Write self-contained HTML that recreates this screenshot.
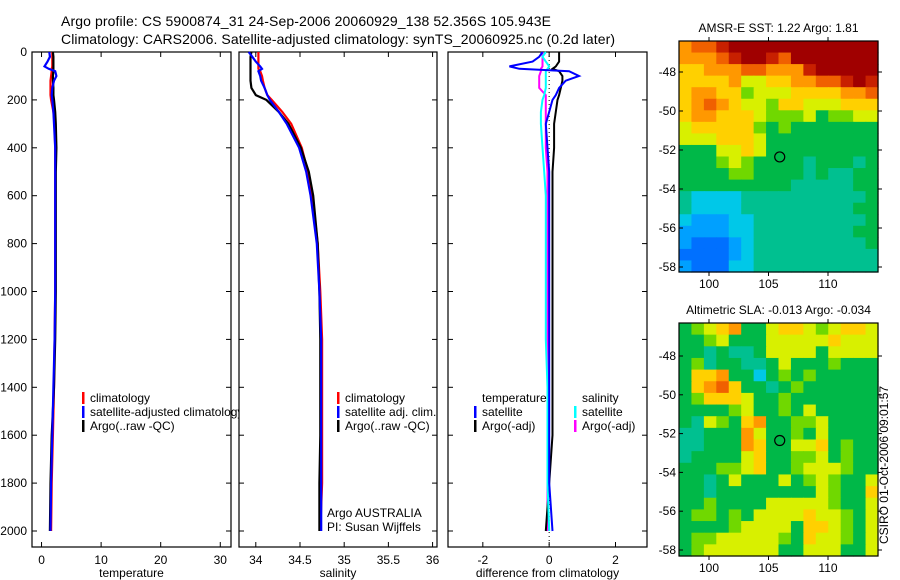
<!DOCTYPE html>
<html><head><meta charset="utf-8">
<style>
body{margin:0;background:#fff;}
svg{display:block;font-family:"Liberation Sans",sans-serif;}
text{font-size:12px;fill:#000;}
</style></head>
<body>
<svg id="fig" width="900" height="580" viewBox="0 0 900 580">
<text x="61" y="26" style="font-size:14px" textLength="490">Argo profile: CS 5900874_31 24-Sep-2006 20060929_138 52.356S 105.943E</text>
<text x="61" y="44" style="font-size:14px" textLength="554">Climatology: CARS2006. Satellite-adjusted climatology: synTS_20060925.nc (0.2d later)</text>
<g id="g"></g>
</svg>
<script>
// ---- profile data (depth in m) ----
const depths = [0,20,40,60,70,80,100,120,150,180,200,250,300,400,500,600,800,1000,1200,1400,1600,1800,2000];
const tempClim = [1.8,1.8,1.8,1.8,1.7,1.7,1.6,1.5,1.5,1.5,1.6,2.0,2.2,2.3,2.3,2.3,2.3,2.3,2.2,2.1,1.9,1.7,1.6];
const tempSat  = [1.3,1.4,1.0,0.5,1.2,2.3,2.5,2.1,1.8,1.7,1.8,2.0,2.1,2.3,2.3,2.3,2.3,2.3,2.2,2.0,1.8,1.6,1.5];
const tempArgo = [1.9,2.0,2.0,2.0,2.0,2.0,1.9,1.9,2.0,2.0,2.1,2.3,2.4,2.5,2.4,2.4,2.4,2.4,2.3,2.1,1.7,1.5,1.4];
const salClim  = [34.03,34.03,34.03,34.03,34.03,34.05,34.07,34.08,34.10,34.13,34.18,34.30,34.40,34.52,34.59,34.64,34.70,34.73,34.75,34.75,34.75,34.75,34.73];
const salSat   = [33.92,33.96,34.00,34.05,34.07,34.03,34.05,34.06,34.10,34.13,34.16,34.26,34.35,34.49,34.57,34.62,34.69,34.72,34.74,34.74,34.74,34.74,34.74];
const salArgo  = [33.95,33.94,33.94,33.94,33.94,33.94,33.94,33.94,33.95,34.00,34.12,34.26,34.37,34.51,34.60,34.65,34.70,34.72,34.73,34.73,34.73,34.72,34.72];
const dTempSat  = [-0.2,-0.3,-0.5,-1.2,-0.9,0.6,0.9,0.5,0.3,0.2,0.1,0.0,-0.1,-0.05,0.0,0.0,0.0,0.0,0.0,0.0,0.0,0.0,0.1];
const dTempArgo = [0.3,0.3,0.3,0.2,0.1,0.3,0.4,0.4,0.35,0.3,0.25,0.2,0.15,0.15,0.1,0.1,0.1,0.1,0.1,0.1,0.1,0.0,-0.1];
const dSalSat   = [-0.1,-0.2,-0.1,0.0,-0.05,-0.1,-0.1,-0.1,-0.1,-0.15,-0.2,-0.25,-0.25,-0.2,-0.15,-0.1,-0.1,-0.1,-0.1,-0.05,-0.05,-0.05,0.0];
const dSalArgo  = [-0.2,-0.2,-0.2,-0.2,-0.25,-0.25,-0.3,-0.3,-0.3,-0.1,-0.1,-0.1,-0.1,-0.1,-0.05,-0.05,-0.05,-0.05,-0.05,-0.05,-0.05,-0.05,-0.05];
const depthTicks = [0,200,400,600,800,1000,1200,1400,1600,1800,2000];
const tempTicks = [0,10,20,30];
const salTicks = [34,34.5,35,35.5,36];
const salTickLabels = ["34","34.5","35","35.5","36"];
const diffTicks = [-2,0,2];
// ---- map data (level codes, rows north->south) ----
const sstRows = ["899abbbbbbbbbbbb","8889abba9bbbbbbb","7788899888abbbbb","7777866778899aba","7887756667777889","7898766577666777","7887776555645566","6777775454444444","6667776444444444","4446676444444444","4445654444344434","4444554444343344","4444444443333344","3222233333333334","3222233333333344","2111223333333334","1111223333333344","1000123333333334","0000123333333333","1000223333333333"];
const slaRows = ["4567844677656776","4456444666667666","4434334666646666","4534433464445444","4778442454544444","4789744345444444","4577764454444444","4444564454644444","4365478445564444","3344486445464444","3344487446674544","3444467445564544","4445567445666544","4434644464565446","4434444444465447","4454444666665446","4554546666766546","4444566664776546","4556666654766546","4566666644666446"];
const lonTicks = [100,105,110];
const latTicks = [-48,-50,-52,-54,-56,-58];
const floatLon = 105.943, floatLat = -52.356;

const NS="http://www.w3.org/2000/svg";
const G=document.getElementById('g');
function el(t,a,p){const e=document.createElementNS(NS,t);for(const k in a)e.setAttribute(k,a[k]);(p||G).appendChild(e);return e;}
function txt(x,y,s,anchor,p,size){const e=el('text',{x:x,y:y,'text-anchor':anchor||'start'},p);if(size)e.style.fontSize=size+'px';e.textContent=s;return e;}

const Y0=52,Y1=547;
const yD=d=>52+d*0.2395;
function panel(name,x0,x1,vmin,vmax,ticks,labels,xlabel,yl){
  const g=el('g',{});
  
  
  const sx=v=>x0+(v-vmin)/(vmax-vmin)*(x1-x0);
  const r=el('rect',{x:x0,y:Y0,width:x1-x0,height:Y1-Y0,fill:'#fff',stroke:'#000','stroke-width':1.2},g);
  
  
  ticks.forEach((t,i)=>{
    const x=sx(t);
    el('line',{x1:x,x2:x,y1:Y1,y2:Y1-5,stroke:'#000'},g);
    el('line',{x1:x,x2:x,y1:Y0,y2:Y0+5,stroke:'#000'},g);
    const lt=txt(x,Y1+17,labels[i],'middle',g);
    
    
  });
  depthTicks.forEach(d=>{
    const y=yD(d);
    el('line',{x1:x0,x2:x0+5,y1:y,y2:y,stroke:'#000'},g);
    el('line',{x1:x1,x2:x1-5,y1:y,y2:y,stroke:'#000'},g);
    if(yl){const t=txt(x0-5,y+4,String(d),'end',g);
      
      }
  });
  const xt=txt((x0+x1)/2,Y1+30,xlabel,'middle',g);
  
  
  return {g,sx};
}
function line(p,vals,color,name,w){
  let d='';
  vals.forEach((v,i)=>{const x=p.sx(v),y=yD(depths[i]);d+=(i?'L':'M')+x.toFixed(1)+' '+y.toFixed(1);});
  const e=el('path',{d:d,fill:'none',stroke:color,'stroke-width':w||2.2},p.g);
  
  
}
function legend(p,x,y,color,label,name){
  const g=el('g',{},p.g);
  
  
  if(color)el('rect',{x:x,y:y-10,width:2.5,height:12,fill:color},g);
  txt(x+8,y,label,'start',g);
}
const p1=panel('temperature-panel',32,231,-1.6,31.8,tempTicks,tempTicks.map(String),'temperature',true);
line(p1,tempClim,'#f00','temp-climatology-line');
line(p1,tempArgo,'#000','temp-argo-line');
line(p1,tempSat,'#00f','temp-satellite-line');
legend(p1,82,402,'#f00','climatology','legend-climatology');
legend(p1,82,416,'#00f','satellite-adjusted climatology','legend-satellite');
legend(p1,82,430,'#000','Argo(..raw -QC)','legend-argo');

const p2=panel('salinity-panel',239,437,33.81,36.05,salTicks,salTickLabels,'salinity',false);
line(p2,salClim,'#f00','sal-climatology-line');
line(p2,salArgo,'#000','sal-argo-line');
line(p2,salSat,'#00f','sal-satellite-line');
legend(p2,337,402,'#f00','climatology','legend-climatology');
legend(p2,337,416,'#00f','satellite adj. clim.','legend-satellite');
legend(p2,337,430,'#000','Argo(..raw -QC)','legend-argo');
const a1=txt(327,517,'Argo AUSTRALIA','start',p2.g);
const a2=txt(327,531,'PI: Susan Wijffels','start',p2.g);

const p3=panel('difference-panel',448,647,-3.05,2.95,diffTicks,diffTicks.map(String),'difference from climatology',false);
el('line',{x1:p3.sx(0),x2:p3.sx(0),y1:Y0,y2:Y1,stroke:'#000','stroke-dasharray':'1 3'},p3.g);
line(p3,dSalArgo,'#f0f','diff-sal-argo-line',2);
line(p3,dTempArgo,'#000','diff-temp-argo-line',2);
line(p3,dSalSat,'#0ff','diff-sal-satellite-line',2);
line(p3,dTempSat,'#00f','diff-temp-satellite-line',2);
legend(p3,474,402,null,'temperature','legend-temperature-header');
legend(p3,574,402,null,'salinity','legend-salinity-header');
legend(p3,474,416,'#00f','satellite','legend-temp-satellite');
legend(p3,474,430,'#000','Argo(-adj)','legend-temp-argo');
legend(p3,574,416,'#0ff','satellite','legend-sal-satellite');
legend(p3,574,430,'#f0f','Argo(-adj)','legend-sal-argo');

// ---- maps ----
const cmap={'0':'#0070ff','1':'#00a0ff','2':'#00c8e8','3':'#00c090','4':'#00b848','5':'#70d800','6':'#d8f000','7':'#ffd000','8':'#ff9800','9':'#f06000','a':'#c82000','b':'#a00000'};
function map(name,rows,y0,y1,title,latAt48,latAt58){
  const x0=679,x1=878;
  const g=el('g',{});
  
  
  const sxL=l=>709+(l-100)*11.9;
  const syL=l=>latAt48+(-48-l)*(latAt58-latAt48)/10;
  const nr=rows.length,nc=rows[0].length,cw=(x1-x0)/nc,ch=(y1-y0)/nr;
  rows.forEach((r,i)=>{[...r].forEach((c,j)=>{
    const cell=el('rect',{x:(x0+j*cw).toFixed(2),y:(y0+i*ch).toFixed(2),width:(cw+0.6).toFixed(2),height:(ch+0.6).toFixed(2),fill:cmap[c]},g);
    
    
  });});
  el('rect',{x:x0,y:y0,width:x1-x0,height:y1-y0,fill:'none',stroke:'#000','stroke-width':1.2},g);
  lonTicks.forEach(l=>{const x=sxL(l);
    el('line',{x1:x,x2:x,y1:y1,y2:y1+4,stroke:'#000'},g);
    el('line',{x1:x,x2:x,y1:y0,y2:y0-4,stroke:'#000'},g);
    const t=txt(x,y1+16,String(l),'middle',g);});
  latTicks.forEach(l=>{const y=syL(l);
    el('line',{x1:x0,x2:x0+4,y1:y,y2:y,stroke:'#000'},g);
    el('line',{x1:x1,x2:x1+4,y1:y,y2:y,stroke:'#000'},g);
    const t=txt(x0-3,y+4,String(l),'end',g);});
  const c=el('circle',{cx:sxL(floatLon),cy:syL(floatLat),r:5,fill:'none',stroke:'#000','stroke-width':1.2},g);
  
  
  const t=txt((x0+x1)/2,y0-9,title,'middle',g);
  
  
}
map('sst-map',sstRows,41,272,'AMSR-E SST: 1.22 Argo: 1.81',72,267);
map('sla-map',slaRows,323,556,'Altimetric SLA: -0.013 Argo: -0.034',356,550);
const st=txt(0,0,'CSIRO 01-Oct-2006 09:01:57','middle');
st.setAttribute('transform','translate(888,465) rotate(-90)');


</script>
</body></html>
